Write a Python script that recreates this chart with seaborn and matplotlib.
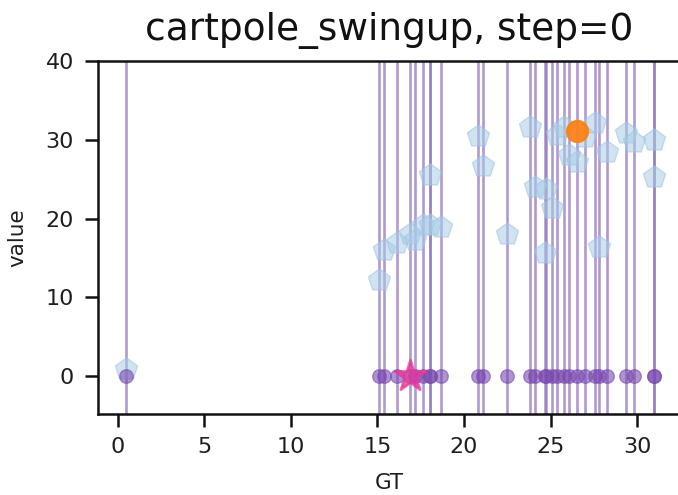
import matplotlib
matplotlib.use("Agg")
import matplotlib.pyplot as plt
import seaborn as sns
import numpy as np
import pandas as pd

gt = [0.46, 15.08, 15.37, 16.14, 16.9, 17.2, 17.66, 18.06, 18.06, 18.7,
      20.8, 21.1, 22.48, 23.83, 24.08, 24.65, 24.75, 25.1, 25.37, 25.75,
      26.04, 26.52, 27.0, 27.58, 27.77, 28.26, 29.37, 29.83, 30.99, 30.99]
pred = [0.9, 12.2, 16.0, 16.85, 18.1, 17.3, 19.2, 19.2, 25.5, 18.9,
        30.5, 26.7, 18.0, 31.65, 24.0, 15.6, 23.7, 21.3, 30.6, 31.65,
        28.06, 27.2, 30.4, 32.1, 16.4, 28.5, 30.8, 29.75, 29.97, 25.3]
best_gt = [26.52]
best_pred = [31.15]
star_gt = [16.87]
star_val = [0.0]

title = "cartpole_swingup, step=0"

sns.set_style("ticks")
fig = plt.figure(figsize=(6.78, 4.95), dpi=100)
ax = fig.add_axes([98/678, 1-414/495, (681-98)/678, (414-61)/495])

df = pd.DataFrame({"GT": gt, "value": pred})
df0 = pd.DataFrame({"GT": gt, "value": np.zeros(len(gt))})

for g in gt:
    ax.axvline(g, color="#9478c0", alpha=0.75, lw=1.9, zorder=1)

sns.scatterplot(data=df, x="GT", y="value", marker="p", s=280,
                color="#a9cde6", alpha=0.55, edgecolor="#9fc4e0", linewidth=1,
                ax=ax, zorder=2)
sns.scatterplot(data=df0, x="GT", y="value", marker="o", s=95,
                color="#7a4bb0", alpha=0.6, edgecolor="#7a4bb0", linewidth=1,
                ax=ax, zorder=3)
sns.scatterplot(x=best_gt, y=best_pred, marker="o", s=240, color="#ff7f0e",
                alpha=0.9, edgecolor="#ff7f0e", ax=ax, zorder=4)
sns.scatterplot(x=star_gt, y=star_val, marker="*", s=560, color="#e8389a",
                alpha=0.75, edgecolor="#e8389a", ax=ax, zorder=4)

ax.set_xlim(-1.13, 32.53)
ax.set_ylim(-4.8, 40)
ax.set_xticks([0, 5, 10, 15, 20, 25, 30])
ax.set_yticks([0, 10, 20, 30, 40])
ax.tick_params(labelsize=16, length=9.4, width=1.8, labelcolor="#1e1e1e", color="#111111")
ax.tick_params(axis="x", pad=7)
ax.tick_params(axis="y", pad=8)
ax.spines["right"].set_visible(False)
for s in ax.spines.values():
    s.set_linewidth(1.8)
    s.set_color("#111111")
ax.set_xlabel("GT", fontsize=15.5, color="#1e1e1e", labelpad=12)
ax.set_ylabel("value", fontsize=15.5, color="#1e1e1e", labelpad=13)
ax.set_title(title, fontsize=27, color="#111111", pad=15)

fig.savefig("out.png", dpi=100)
